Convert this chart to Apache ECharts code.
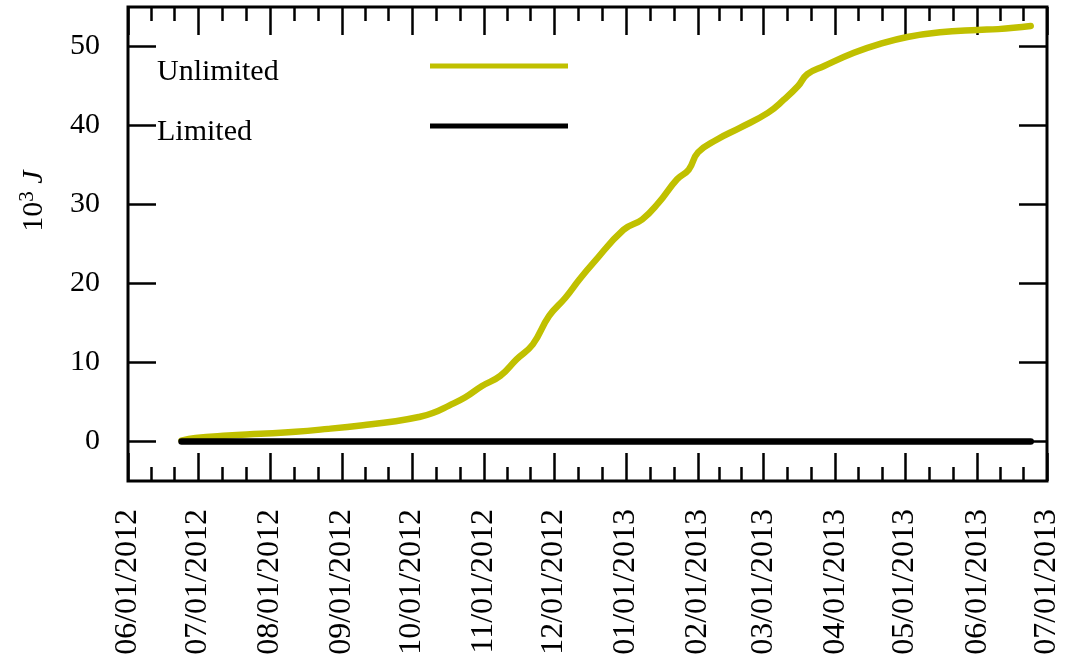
<!DOCTYPE html>
<html>
<head>
<meta charset="utf-8">
<script src="https://cdn.jsdelivr.net/npm/echarts@6/dist/echarts.min.js"></script>
<style>
  html, body { margin: 0; padding: 0; background: #ffffff; }
  #chart { width: 1073px; height: 671px; }
</style>
</head>
<body>
<div id="chart"></div>
<script>
// Cumulative energy, in units of 10^3 J
const dates = [
  '2012-06-24', '2012-06-30', '2012-07-14', '2012-07-28', '2012-08-12', '2012-08-26',
  '2012-09-10', '2012-09-24', '2012-10-04', '2012-10-10', '2012-10-17', '2012-10-24',
  '2012-10-31', '2012-11-08', '2012-11-15', '2012-11-22', '2012-11-29', '2012-12-06',
  '2012-12-12', '2012-12-18', '2012-12-31', '2013-01-08', '2013-01-15', '2013-01-23',
  '2013-01-28', '2013-02-01', '2013-02-09', '2013-02-19', '2013-03-03', '2013-03-10',
  '2013-03-16', '2013-03-20', '2013-03-27', '2013-04-09', '2013-04-20', '2013-05-02',
  '2013-05-16', '2013-06-01', '2013-06-10', '2013-06-24'
];
const unlimited = [
  0.1, 0.45, 0.75, 0.97, 1.23, 1.6,
  2.06, 2.57, 3.1, 3.6, 4.55, 5.6,
  7.0, 8.3, 10.4, 12.3, 15.9, 18.2,
  20.5, 22.6, 26.8, 28.1, 30.2, 33.2,
  34.4, 36.6, 38.2, 39.7, 41.6, 43.3,
  45.0, 46.5, 47.5, 49.2, 50.3, 51.2,
  51.8, 52.1, 52.2, 52.6
];
const limited = [
  0, 0, 0, 0, 0, 0, 0, 0, 0, 0,
  0, 0, 0, 0, 0, 0, 0, 0, 0, 0,
  0, 0, 0, 0, 0, 0, 0, 0, 0, 0,
  0, 0, 0, 0, 0, 0, 0, 0, 0, 0
];
const seriesNames = ['Unlimited', 'Limited'];

// Axis ticks
const monthTicks = [
  '2012-06-01', '2012-07-01', '2012-08-01', '2012-09-01', '2012-10-01', '2012-11-01',
  '2012-12-01', '2013-01-01', '2013-02-01', '2013-03-01', '2013-04-01', '2013-05-01',
  '2013-06-01', '2013-07-01'
];
const yTicks = [0, 10, 20, 30, 40, 50];
const yMin = -5;
const yMax = 55;

function ts(s) {
  const p = s.split('-').map(Number);
  return new Date(p[0], p[1] - 1, p[2]).getTime();
}
function pad(n) { return (n < 10 ? '0' : '') + n; }
function fmtDate(v) {
  const d = new Date(v);
  return pad(d.getMonth() + 1) + '/' + pad(d.getDate()) + '/' + d.getFullYear();
}

const majorX = monthTicks.map(ts);
const minorX = [];
for (let i = 0; i + 1 < majorX.length; i++) {
  const a = majorX[i], b = majorX[i + 1];
  minorX.push(a + (b - a) / 3, a + 2 * (b - a) / 3);
}

const FONT = '"Liberation Serif", "DejaVu Serif", serif';
const tickStyle = { color: '#000', width: 2.5 };

function xAxisDef(pos, ticks, len, labels) {
  return {
    type: 'value',
    position: pos,
    min: majorX[0],
    max: majorX[majorX.length - 1],
    axisLine: { show: false, onZero: false },
    splitLine: { show: false },
    axisTick: { show: true, inside: true, length: len, lineStyle: tickStyle, customValues: ticks },
    axisLabel: labels ? {
      show: true,
      customValues: ticks,
      rotate: 90,
      margin: 28,
      formatter: fmtDate,
      color: '#000',
      fontSize: 32,
      fontFamily: FONT
    } : { show: false }
  };
}

function yAxisDef(pos, withLabels) {
  const axis = {
    type: 'value',
    position: pos,
    min: yMin,
    max: yMax,
    axisLine: { show: false, onZero: false },
    splitLine: { show: false },
    axisTick: { show: true, inside: true, length: 28, lineStyle: tickStyle, customValues: yTicks },
    axisLabel: withLabels
      ? { show: true, customValues: yTicks, margin: 28, color: '#000', fontSize: 30, fontFamily: FONT }
      : { show: false }
  };
  if (withLabels) {
    axis.name = '{a|10}{b|3}{c| J}';
    axis.nameLocation = 'middle';
    axis.nameGap = 76;
    axis.nameRotate = 90;
    axis.nameTextStyle = {
      padding: [0, 0, 0, 86],
      rich: {
        a: { fontSize: 30, fontFamily: FONT, color: '#000' },
        b: { fontSize: 21, fontFamily: FONT, color: '#000', padding: [0, 0, 14, 0] },
        c: { fontSize: 30, fontFamily: FONT, fontStyle: 'italic', color: '#000' }
      }
    };
  }
  return axis;
}

const chart = echarts.init(document.getElementById('chart'));
chart.setOption({
  animation: false,
  backgroundColor: '#ffffff',
  grid: {
    left: 128, right: 26, top: 7, bottom: 190,
    show: true, borderColor: '#000', borderWidth: 3, backgroundColor: 'transparent'
  },
  legend: {
    data: seriesNames,
    orient: 'vertical',
    left: 152,
    top: 40,
    align: 'right',
    icon: 'rect',
    itemWidth: 138,
    itemHeight: 5,
    itemGap: 18,
    formatter: function (name) { return '{n|' + name + '}'; },
    textStyle: {
      color: '#000',
      fontFamily: FONT,
      fontSize: 30,
      rich: {
        n: { width: 268, align: 'left', fontSize: 30, lineHeight: 30, fontFamily: FONT, color: '#000', padding: [12, 0, 0, 0] }
      }
    }
  },
  xAxis: [
    xAxisDef('bottom', majorX, 28, true),
    xAxisDef('bottom', minorX, 14, false),
    xAxisDef('top', majorX, 28, false),
    xAxisDef('top', minorX, 14, false)
  ],
  yAxis: [
    yAxisDef('left', true),
    yAxisDef('right', false)
  ],
  series: [
    {
      name: seriesNames[0],
      type: 'line',
      data: dates.map(function (d, i) { return [ts(d), unlimited[i]]; }),
      symbol: 'none',
      smooth: 0.45,
      color: '#c0c000',
      itemStyle: { color: '#c0c000' },
      lineStyle: { color: '#c0c000', width: 6.5, cap: 'round', join: 'round' },
      z: 2
    },
    {
      name: seriesNames[1],
      type: 'line',
      data: dates.map(function (d, i) { return [ts(d), limited[i]]; }),
      symbol: 'none',
      color: '#000000',
      itemStyle: { color: '#000000' },
      lineStyle: { color: '#000000', width: 6.5, cap: 'round' },
      z: 3
    }
  ]
});
</script>
</body>
</html>
